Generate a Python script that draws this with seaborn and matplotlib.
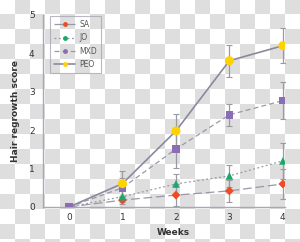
import numpy as np
import pandas as pd
import matplotlib
matplotlib.use("Agg")
import matplotlib.pyplot as plt
import seaborn as sns

weeks = [0, 1, 2, 3, 4]
sa = [0.0, 0.18, 0.31, 0.42, 0.60]
sa_err = [0.0, 0.10, 0.28, 0.28, 0.38]
jo = [0.0, 0.27, 0.60, 0.81, 1.20]
jo_err = [0.0, 0.15, 0.26, 0.28, 0.47]
mxd = [0.0, 0.50, 1.51, 2.40, 2.77]
mxd_err = [0.0, 0.25, 0.50, 0.29, 0.48]
peo = [0.0, 0.61, 1.98, 3.81, 4.20]
peo_err = [0.0, 0.34, 0.45, 0.42, 0.45]
series_names = ["SA", "JO", "MXD", "PEO"]

sns.set_theme(style="white")
plt.rcParams['font.family'] = ['DejaVu Sans']

fig = plt.figure(figsize=(3.0, 2.42), dpi=100)

# checkerboard background
bg = fig.add_axes([0, 0, 1, 1], zorder=-1)
rows, cols = 17, 20
board = np.indices((rows, cols)).sum(axis=0) % 2
bg.imshow(board, cmap=matplotlib.colors.ListedColormap(["#ffffff", "#dedede"]),
          extent=(0, 300, 254, -1), interpolation="nearest", aspect="auto")
bg.set_xlim(0, 300)
bg.set_ylim(242, 0)
bg.axis("off")

ax = fig.add_axes([43/300, 35/242, 242/300, 192/242])
ax.set_facecolor("none")

df = pd.DataFrame({
    "Weeks": weeks * 4,
    "score": sa + jo + mxd + peo,
    "err": sa_err + jo_err + mxd_err + peo_err,
    "group": sum([[n] * len(weeks) for n in series_names], []),
})

styles = {
    "SA": dict(mc="#ef4a24", marker="D", ms=4.5, dashes=(7, 3), lc="#9a98a8", lw=0.9),
    "JO": dict(mc="#1aa86b", marker="^", ms=5.5, dashes=(1.5, 2), lc="#9a98a8", lw=0.9),
    "MXD": dict(mc="#8b6db4", marker="s", ms=5.5, dashes=(4, 2.5), lc="#9a98a8", lw=0.9),
    "PEO": dict(mc="#ffd200", marker="o", ms=6.5, dashes=None, lc="#8c899e", lw=1.2),
}

handles = []
for name in series_names:
    st = styles[name]
    sub = df[df["group"] == name]
    ax.errorbar(sub["Weeks"], sub["score"], yerr=sub["err"], fmt="none",
                ecolor="#9a9aa2", elinewidth=0.9, capsize=2, capthick=0.8, zorder=2)
    sns.lineplot(data=sub, x="Weeks", y="score", ax=ax, color=st["lc"],
                 linewidth=st["lw"], errorbar=None, legend=False, zorder=3)
    line = ax.lines[-1]
    if st["dashes"] is not None:
        line.set_dashes(st["dashes"])
    ax.scatter(sub["Weeks"][1:], sub["score"][1:], marker=st["marker"],
               s=st["ms"] ** 2, color=st["mc"], edgecolor="none", zorder=4)
    h = matplotlib.lines.Line2D([], [], color=st["lc"], lw=st["lw"],
                                marker="o", markersize=3.5,
                                markerfacecolor=st["mc"], markeredgecolor="none")
    if st["dashes"] is not None:
        h.set_dashes(st["dashes"])
    handles.append(h)

# week 0 point (shared, purple square on top)
ax.scatter([weeks[0]], [mxd[0]], marker="s", s=5.5 ** 2, color="#8b6db4",
           edgecolor="none", zorder=5)

ax.set_xlim(-0.486, 4.04)
ax.set_ylim(0, 5)
ax.set_xticks(weeks)
ax.set_yticks([0, 1, 2, 3, 4, 5])
ax.set_xticks([0.5, 1.5, 2.5, 3.5], minor=True)
ax.tick_params(axis="both", which="both", direction="in", length=2,
               color="#a0a0b0", labelsize=6.5, labelcolor="#333333", width=0.8)
ax.tick_params(axis="y", pad=6)
ax.tick_params(axis="x", pad=4)
for s in ["top", "right"]:
    ax.spines[s].set_visible(False)
for s in ["left", "bottom"]:
    ax.spines[s].set_color("#a8a8b8")
    ax.spines[s].set_linewidth(1.0)

ax.set_xlabel("Weeks", fontsize=6.5, fontweight="bold", color="#333333")
ax.xaxis.set_label_coords(0.54, -0.11)
ax.set_ylabel("Hair regrowth score", fontsize=6.5, fontweight="bold", color="#333333")
ax.yaxis.set_label_coords(-0.095, 0.5)

leg = ax.legend(handles, series_names, loc="upper left",
                bbox_to_anchor=(3/242, 1.015), fontsize=5.5, frameon=True,
                fancybox=False, handlelength=2.8, labelspacing=0.55,
                borderpad=0.55, handletextpad=0.5, labelcolor="#555555")
leg.get_frame().set_facecolor("none")
leg.get_frame().set_edgecolor("#a8a8b8")
leg.get_frame().set_linewidth(0.8)

fig.savefig("out.png", dpi=100)
